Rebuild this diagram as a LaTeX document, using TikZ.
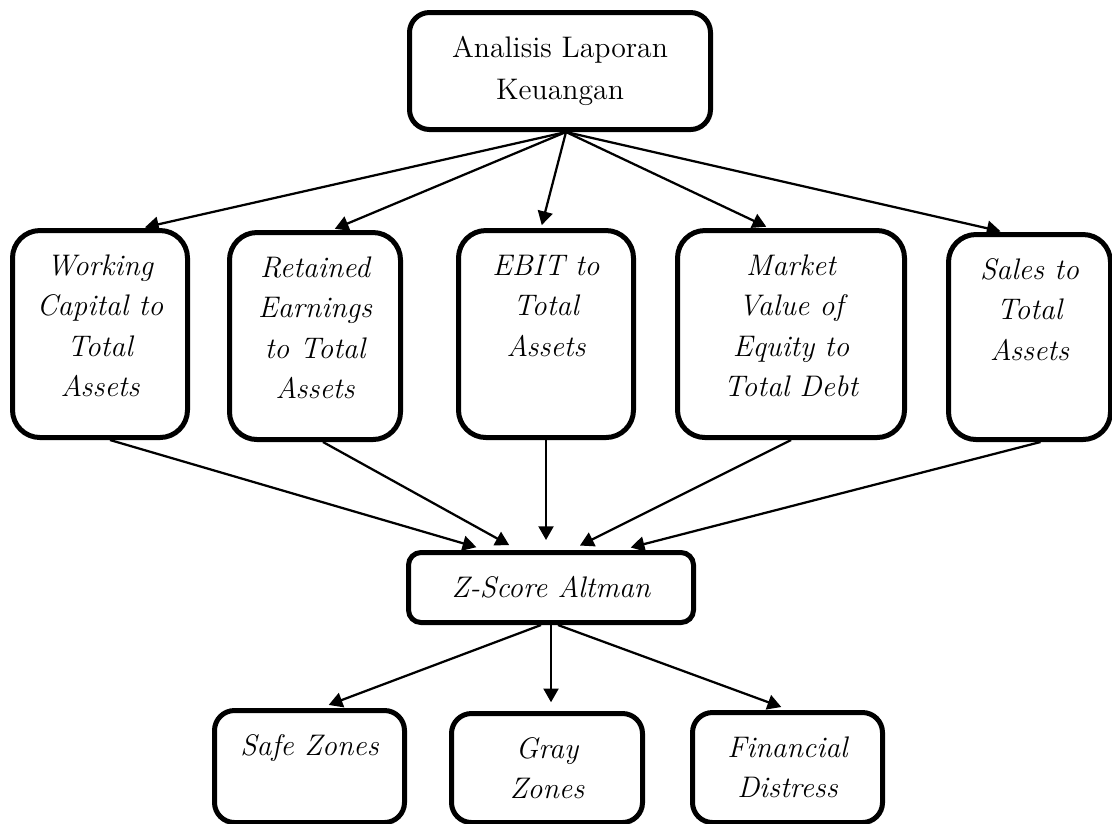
\documentclass[tikz,border=0pt]{standalone}
\usetikzlibrary{arrows.meta}

\newlength\unitpx
\setlength\unitpx{0.4pt}
\newcommand{\isikotak}[3]{\parbox[t][\dimexpr#2\unitpx-13pt\relax][t]{#1\unitpx}{\centering\strut#3}}

\tikzset{
    kotak/.style={draw, line width=2pt, anchor=north west, inner xsep=0pt, inner ysep=6.5pt,
        font=\fontsize{11.9}{16.2}\selectfont\itshape},
    panah/.style={-{Triangle[length=5.5pt,width=6pt]}, line width=0.9pt}
}

\begin{document}
\begin{tikzpicture}[x=\unitpx, y=-\unitpx]
    \useasboundingbox (0,0) rectangle (1112,823);

    \node[kotak, rounded corners=8pt, inner sep=0pt, align=center, minimum width=301\unitpx, minimum height=117\unitpx,
        font=\fontsize{11.9}{17}\selectfont] (lap) at (407,10) {Analisis Laporan\\Keuangan};

    \node[kotak, rounded corners=11pt] (wc) at (10,228) {\isikotak{175}{207}{Working\\Capital to\\Total\\Assets}};
    \node[kotak, rounded corners=11pt] (re) at (227,230) {\isikotak{171}{207}{Retained\\Earnings\\to Total\\Assets}};
    \node[kotak, rounded corners=11pt] (eb) at (456,228) {\isikotak{175}{207}{EBIT to\\Total\\Assets}};
    \node[kotak, rounded corners=11pt] (mv) at (675,228) {\isikotak{227}{207}{Market\\Value of\\Equity to\\Total Debt}};
    \node[kotak, rounded corners=11pt] (st) at (946,232) {\isikotak{162}{205}{Sales to\\Total\\Assets}};

    \node[kotak, rounded corners=5pt, inner sep=0pt, minimum width=285\unitpx, minimum height=70\unitpx] (zs) at (406,550) {Z-Score Altman};

    \node[kotak, rounded corners=8pt] (sz) at (212,708) {\isikotak{190}{112}{Safe Zones}};
    \node[kotak, rounded corners=8pt] (gz) at (449,711) {\isikotak{191}{109}{Gray\\Zones}};
    \node[kotak, rounded corners=8pt] (fd) at (690,710) {\isikotak{190}{110}{Financial\\Distress}};

    \foreach \n/\a in {wc/42, re/17, eb/-5, mv/-22, st/-26} {
        \draw[panah, shorten >=1.2pt] ([xshift=6\unitpx]lap.south) -- ([xshift=\a\unitpx]\n.north);
    }
    \foreach \n/\a/\b in {wc/10/-65, re/8/-33, eb/0/-5, mv/0/20, st/11/70} {
        \draw[panah, shorten >=4pt] ([xshift=\a\unitpx]\n.south) -- ([xshift=\b\unitpx]zs.north);
    }
    \foreach \n/\a/\b in {sz/-10/11, gz/0/4, fd/7/2} {
        \draw[panah, shorten >=3.5pt] ([xshift=\a\unitpx]zs.south) -- ([xshift=\b\unitpx]\n.north);
    }
\end{tikzpicture}
\end{document}
